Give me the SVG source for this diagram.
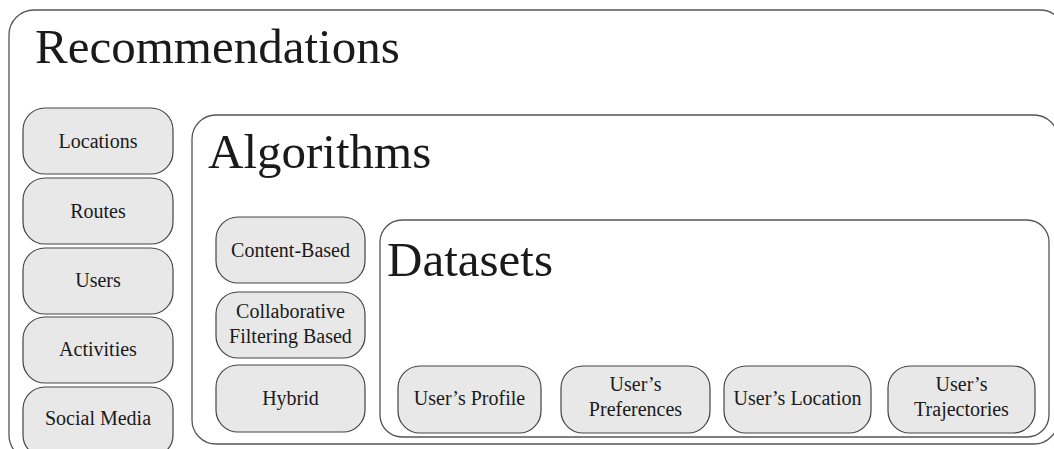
<svg xmlns="http://www.w3.org/2000/svg" width="1054" height="449" viewBox="0 0 1054 449">
<style>
.box{fill:#ffffff;stroke:#555555;stroke-width:1.3}
.node{fill:#e8e8e8;stroke:#444444;stroke-width:1.2}
.title{font-size:49px;fill:#1a1a1a}
.lbl{font-size:20px;fill:#1a1a1a;text-anchor:middle}
</style>
<rect width="1054" height="449" fill="#ffffff"/>
<g font-family="'Liberation Serif', 'DejaVu Serif', serif">
<g id="recommendations">
<rect class="box" x="9" y="10" width="1056" height="450" rx="25"/>
<text class="title" x="35" y="63">Recommendations</text>
</g>
<g id="locations"><rect class="node" x="23" y="108" width="150" height="66" rx="22"/><text class="lbl" x="98" y="148">Locations</text></g>
<g id="routes"><rect class="node" x="23" y="178" width="150" height="66" rx="22"/><text class="lbl" x="98" y="218">Routes</text></g>
<g id="users"><rect class="node" x="23" y="248" width="150" height="66" rx="22"/><text class="lbl" x="98" y="287">Users</text></g>
<g id="activities"><rect class="node" x="23" y="317" width="150" height="66" rx="22"/><text class="lbl" x="98" y="356">Activities</text></g>
<g id="social-media"><rect class="node" x="23" y="387" width="150" height="70" rx="22"/><text class="lbl" x="98" y="425">Social Media</text></g>
<g id="algorithms">
<rect class="box" x="192" y="115" width="866" height="329" rx="24"/>
<text class="title" x="208" y="168">Algorithms</text>
</g>
<g id="content-based"><rect class="node" x="216" y="217" width="149" height="66" rx="22"/><text class="lbl" x="290.5" y="257">Content-Based</text></g>
<g id="collaborative"><rect class="node" x="216" y="292" width="149" height="66" rx="22"/><text class="lbl" x="290.5" y="318">Collaborative</text><text class="lbl" x="290.5" y="343">Filtering Based</text></g>
<g id="hybrid"><rect class="node" x="216" y="365" width="149" height="67" rx="22"/><text class="lbl" x="290.5" y="405">Hybrid</text></g>
<g id="datasets">
<rect class="box" x="380" y="220" width="669" height="217" rx="22"/>
<text class="title" x="387" y="276">Datasets</text>
</g>
<g id="users-profile"><rect class="node" x="398" y="366" width="143" height="67" rx="22"/><text class="lbl" x="469.5" y="405">User’s Profile</text></g>
<g id="users-preferences"><rect class="node" x="561" y="366" width="149" height="67" rx="22"/><text class="lbl" x="635.5" y="391">User’s</text><text class="lbl" x="635.5" y="416">Preferences</text></g>
<g id="users-location"><rect class="node" x="724" y="366" width="147" height="67" rx="22"/><text class="lbl" x="797.5" y="405">User’s Location</text></g>
<g id="users-trajectories"><rect class="node" x="888" y="366" width="147" height="67" rx="22"/><text class="lbl" x="961.5" y="391">User’s</text><text class="lbl" x="961.5" y="416">Trajectories</text></g>
<g id="connectors"></g>
</g>
</svg>
